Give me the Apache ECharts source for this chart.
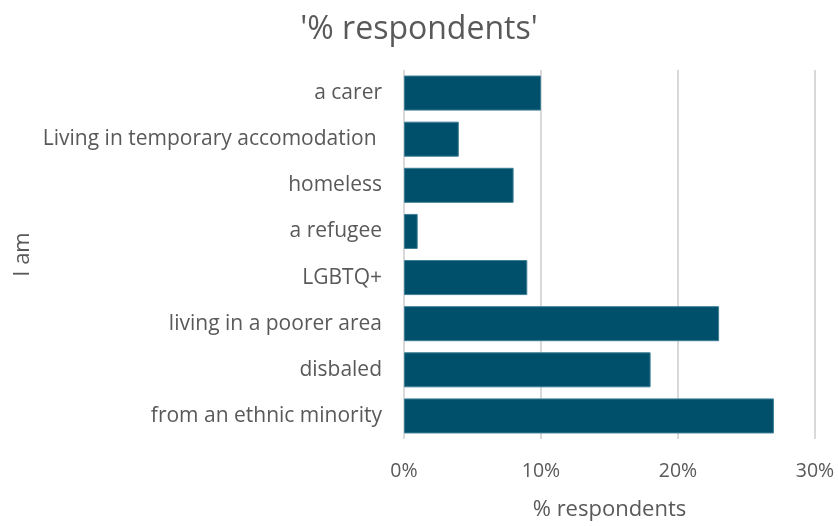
<!DOCTYPE html>
<html><head><meta charset="utf-8">
<script src="https://cdn.jsdelivr.net/npm/echarts@6/dist/echarts.min.js"></script>
<style>html,body{margin:0;padding:0;background:#fff}#c{width:838px;height:526px}</style>
</head><body><div id="c"></div>
<script>
const categories = ["from an ethnic minority","disbaled","living in a poorer area","LGBTQ+","a refugee","homeless","Living in temporary accomodation ","a carer"];
const values = [0.27,0.18,0.23,0.09,0.01,0.08,0.04,0.10];
const xTicks = [0,0.1,0.2,0.3];
const FONT = "Open Sans";
const chart = echarts.init(document.getElementById('c'));
chart.setOption({
  animation:false,
  textStyle:{fontFamily:FONT},
  title:{text:"'% respondents'",left:'center',top:9,textStyle:{fontFamily:FONT,fontSize:32,fontWeight:'normal',color:'#595959'}},
  grid:{left:404,right:23,top:70,bottom:86},
  xAxis:{type:'value',min:xTicks[0],max:xTicks[xTicks.length-1],interval:0.1,
    name:'% respondents',nameLocation:'middle',nameGap:60,
    nameTextStyle:{fontFamily:FONT,fontSize:22,color:'#595959'},
    axisLine:{show:false},axisTick:{show:false},
    axisLabel:{formatter:v=>Math.round(v*100)+'%',fontSize:19.5,color:'#595959',margin:22},
    splitLine:{lineStyle:{color:'#d9d9d9',width:2}}},
  yAxis:{type:'category',data:categories,
    name:'I am',nameLocation:'middle',nameGap:370,nameRotate:90,
    nameTextStyle:{fontFamily:FONT,fontSize:22,color:'#595959'},
    axisLine:{show:false},axisTick:{show:false},
    axisLabel:{fontSize:21,color:'#595959',margin:22}},
  series:[{type:'bar',data:values,barCategoryGap:'24%',
    itemStyle:{color:'#00506b',borderColor:'#3d7f96',borderWidth:1}}]
});
</script></body></html>
